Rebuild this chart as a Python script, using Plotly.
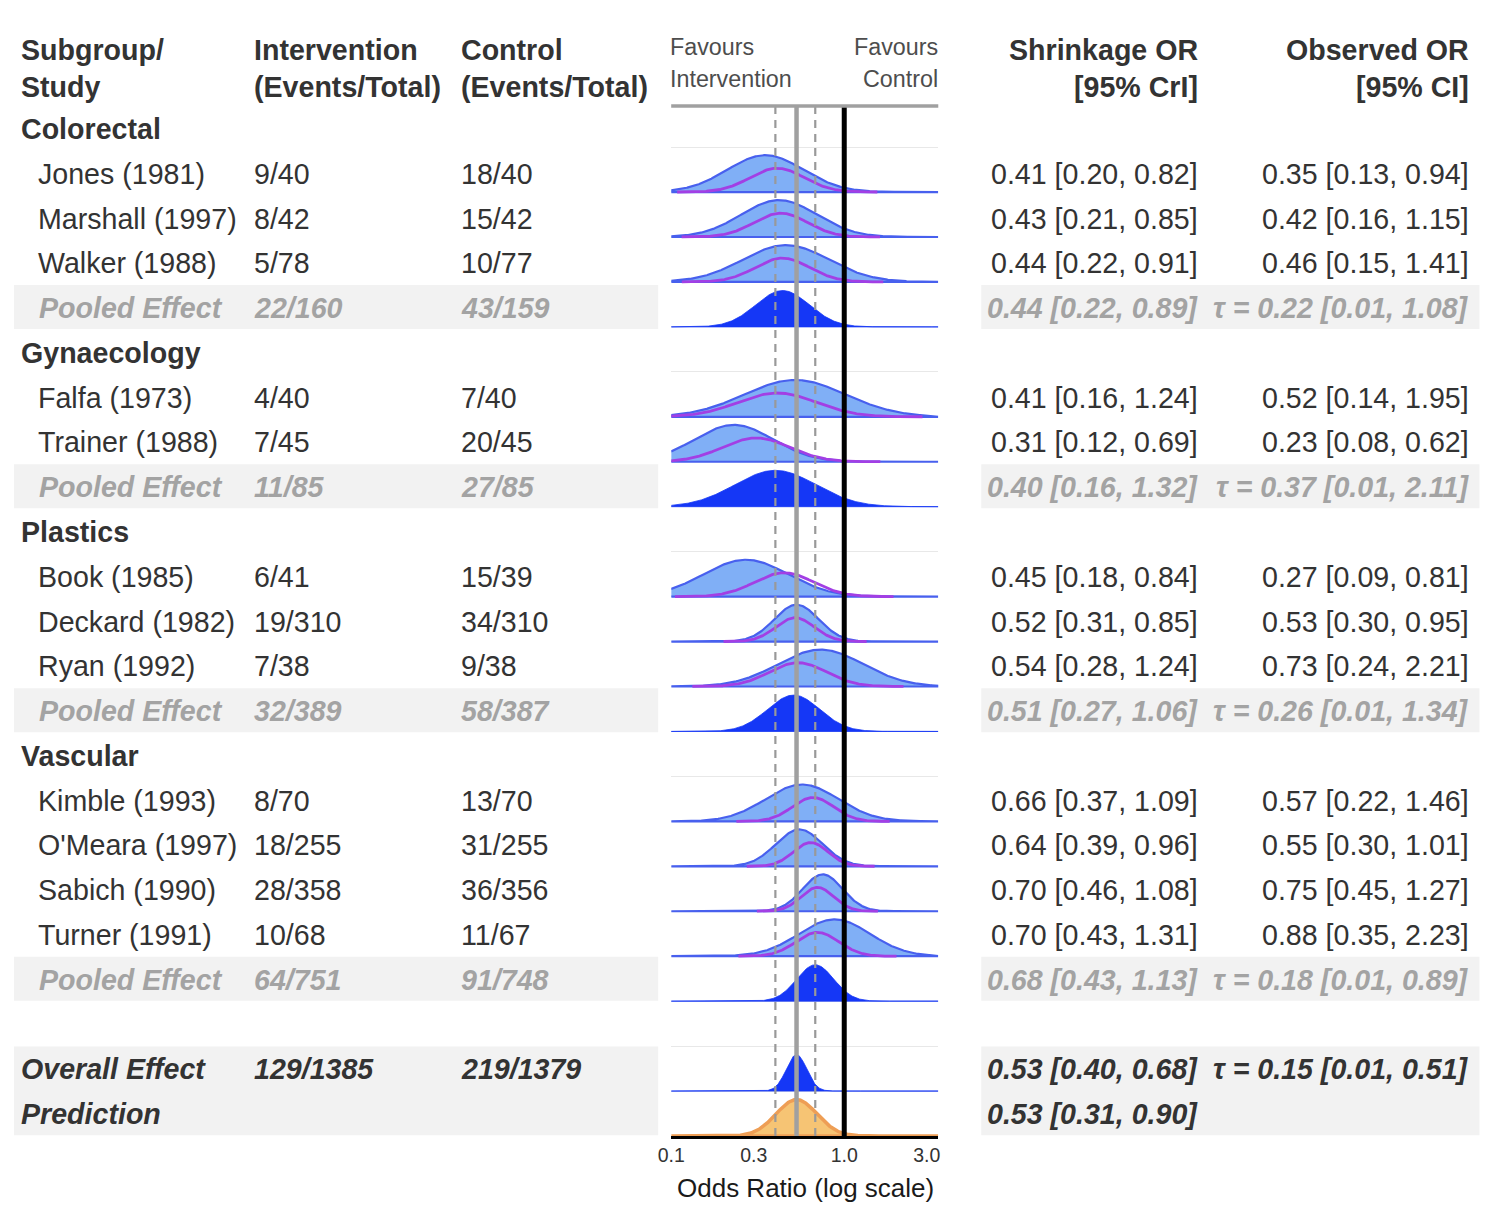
import numpy as np
import plotly.graph_objects as go

# ---------------- data ----------------
row_labels = ["Colorectal", "Jones (1981)", "Marshall (1997)", "Walker (1988)", "Pooled Effect",
              "Gynaecology", "Falfa (1973)", "Trainer (1988)", "Pooled Effect",
              "Plastics", "Book (1985)", "Deckard (1982)", "Ryan (1992)", "Pooled Effect",
              "Vascular", "Kimble (1993)", "O'Meara (1997)", "Sabich (1990)", "Turner (1991)", "Pooled Effect",
              "", "Overall Effect", "Prediction"]
row_kind = ["group", "study", "study", "study", "pooled",
            "group", "study", "study", "pooled",
            "group", "study", "study", "study", "pooled",
            "group", "study", "study", "study", "study", "pooled",
            "blank", "overall", "prediction"]
int_events = ["", "9/40", "8/42", "5/78", "22/160",
              "", "4/40", "7/45", "11/85",
              "", "6/41", "19/310", "7/38", "32/389",
              "", "8/70", "18/255", "28/358", "10/68", "64/751",
              "", "129/1385", ""]
ctl_events = ["", "18/40", "15/42", "10/77", "43/159",
              "", "7/40", "20/45", "27/85",
              "", "15/39", "34/310", "9/38", "58/387",
              "", "13/70", "31/255", "36/356", "11/67", "91/748",
              "", "219/1379", ""]
shr_est = [None, 0.41, 0.43, 0.44, 0.44, None, 0.41, 0.31, 0.40, None, 0.45, 0.52, 0.54, 0.51,
           None, 0.66, 0.64, 0.70, 0.70, 0.68, None, 0.53, 0.53]
shr_lo = [None, 0.20, 0.21, 0.22, 0.22, None, 0.16, 0.12, 0.16, None, 0.18, 0.31, 0.28, 0.27,
          None, 0.37, 0.39, 0.46, 0.43, 0.43, None, 0.40, 0.31]
shr_hi = [None, 0.82, 0.85, 0.91, 0.89, None, 1.24, 0.69, 1.32, None, 0.84, 0.85, 1.24, 1.06,
          None, 1.09, 0.96, 1.08, 1.31, 1.13, None, 0.68, 0.90]
obs_est = [None, 0.35, 0.42, 0.46, None, None, 0.52, 0.23, None, None, 0.27, 0.53, 0.73, None,
           None, 0.57, 0.55, 0.75, 0.88, None, None, None, None]
obs_lo = [None, 0.13, 0.16, 0.15, None, None, 0.14, 0.08, None, None, 0.09, 0.30, 0.24, None,
          None, 0.22, 0.30, 0.45, 0.35, None, None, None, None]
obs_hi = [None, 0.94, 1.15, 1.41, None, None, 1.95, 0.62, None, None, 0.81, 0.95, 2.21, None,
          None, 1.46, 1.01, 1.27, 2.23, None, None, None, None]
tau_est = [None] * 4 + [0.22] + [None] * 3 + [0.37] + [None] * 4 + [0.26] + [None] * 5 + [0.18] + [None, 0.15, None]
tau_lo = [None] * 4 + [0.01] + [None] * 3 + [0.01] + [None] * 4 + [0.01] + [None] * 5 + [0.01] + [None, 0.01, None]
tau_hi = [None] * 4 + [1.08] + [None] * 3 + [2.11] + [None] * 4 + [1.34] + [None] * 5 + [0.89] + [None, 0.51, None]
null_value = 1.0
tick_vals = [0.1, 0.3, 1.0, 3.0]
tick_text = ["0.1", "0.3", "1.0", "3.0"]

# ---------------- geometry ----------------
W, H = 1494, 1226
FONT = "Liberation Sans, Arial, Helvetica, sans-serif"
TXT = "#333333"
GREY_TXT = "#A3A3A3"
BAND = "#F2F2F2"
FS = 28.6


def X(t):
    # horizontal pixel position in paper fraction
    return max(0.0, (t - 13) / 0.989) / W


def XL(t):
    return X(t - 2)


def XR(t):
    return X(t + 2)


def py(y):
    return 1 - y / H


PANEL_L, PANEL_R = 670, 937
PANEL_T, PANEL_B = 106, 1136
ROW_H = 44.95
Y_BOTTOM = len(row_labels) - 0.5
Y_TOP = Y_BOTTOM - (PANEL_B - PANEL_T) / ROW_H
LOGX_MAX = -1 + (PANEL_R - PANEL_L) / 173.0
TEXT_Y0, TEXT_DY = 129.0, 44.78


def row_text_y(r):
    return TEXT_Y0 + TEXT_DY * r


def density(est, lo, hi, xs):
    mu = np.log(est)
    sd = (np.log(hi) - np.log(lo)) / (2 * 1.959964)
    return np.exp(-0.5 * ((np.log(xs) - mu) / sd) ** 2), mu, sd


fig = go.Figure()
xs_full = np.logspace(-1, LOGX_MAX, 400)

OBS_FILL = "#80AFF6"
OBS_LINE = "#4860EE"
SHR_LINE = "#A23FE4"
POOL_FILL = "#1537F6"
PRED_FILL = "#F6C474"
PRED_LINE = "#EE9E55"

for r, kind in enumerate(row_kind):
    base = r + 0.5
    if kind == "study":
        d, _, _ = density(obs_est[r], obs_lo[r], obs_hi[r], xs_full)
        fig.add_trace(go.Scatter(x=np.concatenate([xs_full, xs_full[::-1]]),
                                 y=np.concatenate([base - 0.82 * d, np.full(len(xs_full), base)]),
                                 mode="lines", fill="toself", fillcolor=OBS_FILL,
                                 line=dict(color=OBS_LINE, width=2.2), hoverinfo="skip", showlegend=False))
        _, mu, sd = density(shr_est[r], shr_lo[r], shr_hi[r], xs_full)
        lo_x = max(0.1, np.exp(mu - 3.7 * sd))
        hi_x = min(10 ** LOGX_MAX, np.exp(mu + 3.7 * sd))
        xs_s = np.logspace(np.log10(lo_x), np.log10(hi_x), 300)
        ds, _, _ = density(shr_est[r], shr_lo[r], shr_hi[r], xs_s)
        fig.add_trace(go.Scatter(x=xs_s, y=base - 0.53 * ds, mode="lines",
                                 line=dict(color=SHR_LINE, width=2.8), hoverinfo="skip", showlegend=False))
    elif kind in ("pooled", "overall", "prediction"):
        d, _, _ = density(shr_est[r], shr_lo[r], shr_hi[r], xs_full)
        if kind == "prediction":
            fc, lc, lw = PRED_FILL, PRED_LINE, 3.5
        else:
            fc, lc, lw = POOL_FILL, POOL_FILL, 0.8
        fig.add_trace(go.Scatter(x=np.concatenate([xs_full, xs_full[::-1]]),
                                 y=np.concatenate([base - 0.81 * d, np.full(len(xs_full), base)]),
                                 mode="lines", fill="toself", fillcolor=fc,
                                 line=dict(color=lc, width=lw), hoverinfo="skip", showlegend=False))

# reference lines (overall estimate, its interval, null)
ov = row_kind.index("overall")
for v, col, wd, dash in [(shr_lo[ov], "#999999", 2.2, "8px,6px"), (shr_hi[ov], "#999999", 2.2, "8px,6px"),
                         (shr_est[ov], "#A0A0A0", 4.5, "solid"), (null_value, "#000000", 5, "solid")]:
    fig.add_trace(go.Scatter(x=[v, v], y=[Y_TOP, Y_BOTTOM], mode="lines",
                             line=dict(color=col, width=wd, dash=dash), hoverinfo="skip", showlegend=False))

shapes = []
# grey bands behind pooled / overall rows
for r, kind in enumerate(row_kind):
    if kind == "pooled":
        t0, t1 = row_text_y(r) - 23, row_text_y(r) + 21
    elif kind == "overall":
        t0, t1 = row_text_y(r) - 23, row_text_y(r + 1) + 21
    else:
        continue
    for x0, x1 in [(10, 657), (980, 1478)]:
        shapes.append(dict(type="rect", xref="paper", yref="paper", x0=X(x0), x1=X(x1),
                           y0=py(t1), y1=py(t0), fillcolor=BAND, line=dict(width=0), layer="below"))
# top border of panel
shapes.append(dict(type="line", xref="paper", yref="paper", x0=X(PANEL_L), x1=X(PANEL_R),
                   y0=py(PANEL_T), y1=py(PANEL_T), line=dict(color="#A0A0A0", width=3.5)))

ann = []


def add_text(text, x, y, anchor="left", size=FS, color=TXT, bold=False, italic=False):
    t = text
    if bold:
        t = "<b>" + t + "</b>"
    if italic:
        t = "<i>" + t + "</i>"
    xx = XL(x) if anchor == "left" else (XR(x) if anchor == "right" else X(x))
    ann.append(dict(text=t, x=xx, xref="paper", y=py(y), yref="paper", xanchor=anchor, yanchor="middle",
                    showarrow=False, font=dict(family=FONT, size=size, color=color)))


# headers
add_text("Subgroup/", 20, 50, bold=True)
add_text("Study", 20, 87, bold=True)
add_text("Intervention", 253, 50, bold=True)
add_text("(Events/Total)", 253, 87, bold=True)
add_text("Control", 460, 50, bold=True)
add_text("(Events/Total)", 460, 87, bold=True)
add_text("Shrinkage OR", 1197, 50, anchor="right", bold=True)
add_text("[95% CrI]", 1197, 87, anchor="right", bold=True)
add_text("Observed OR", 1468, 50, anchor="right", bold=True)
add_text("[95% CI]", 1468, 87, anchor="right", bold=True)
add_text("Favours", 669, 47, size=23.3, color="#4D4D4D")
add_text("Intervention", 669, 79, size=23.3, color="#4D4D4D")
add_text("Favours", 937, 47, anchor="right", size=23.3, color="#4D4D4D")
add_text("Control", 937, 79, anchor="right", size=23.3, color="#4D4D4D")
add_text("Odds Ratio (log scale)", 804, 1188, anchor="center", size=26, color="#1A1A1A")


def fmt(e, lo, hi):
    return f"{e:.2f} [{lo:.2f}, {hi:.2f}]"


for r, kind in enumerate(row_kind):
    yc = row_text_y(r)
    if kind == "group":
        add_text(row_labels[r], 20, yc, bold=True)
    elif kind == "study":
        add_text(row_labels[r], 37, yc)
        add_text(int_events[r], 253, yc)
        add_text(ctl_events[r], 460, yc)
        add_text(fmt(shr_est[r], shr_lo[r], shr_hi[r]), 1197, yc, anchor="right")
        add_text(fmt(obs_est[r], obs_lo[r], obs_hi[r]), 1468, yc, anchor="right")
    elif kind == "pooled":
        add_text(row_labels[r], 38, yc, bold=True, italic=True, color=GREY_TXT)
        add_text(int_events[r], 253, yc, bold=True, italic=True, color=GREY_TXT)
        add_text(ctl_events[r], 460, yc, bold=True, italic=True, color=GREY_TXT)
        add_text(fmt(shr_est[r], shr_lo[r], shr_hi[r]), 1197, yc, anchor="right", bold=True, italic=True, color=GREY_TXT)
        add_text("τ = " + fmt(tau_est[r], tau_lo[r], tau_hi[r]), 1468, yc, anchor="right", bold=True, italic=True, color=GREY_TXT)
    elif kind == "overall":
        add_text(row_labels[r], 20, yc, bold=True, italic=True)
        add_text(int_events[r], 253, yc, bold=True, italic=True)
        add_text(ctl_events[r], 460, yc, bold=True, italic=True)
        add_text(fmt(shr_est[r], shr_lo[r], shr_hi[r]), 1197, yc, anchor="right", bold=True, italic=True)
        add_text("τ = " + fmt(tau_est[r], tau_lo[r], tau_hi[r]), 1468, yc, anchor="right", bold=True, italic=True)
    elif kind == "prediction":
        add_text(row_labels[r], 20, yc, bold=True, italic=True)
        add_text(fmt(shr_est[r], shr_lo[r], shr_hi[r]), 1197, yc, anchor="right", bold=True, italic=True)

fig.update_layout(
    width=W, height=H, margin=dict(l=0, r=0, t=0, b=0),
    paper_bgcolor="white", plot_bgcolor="white", showlegend=False,
    shapes=shapes, annotations=ann,
    xaxis=dict(type="log", domain=[X(PANEL_L), X(PANEL_R)], range=[-1, LOGX_MAX],
               tickvals=tick_vals, ticktext=tick_text, showgrid=False, zeroline=False,
               showline=True, linecolor="black", linewidth=3, ticks="",
               tickfont=dict(family=FONT, size=19.5, color="#333333")),
    yaxis=dict(domain=[py(PANEL_B), py(PANEL_T)], range=[Y_BOTTOM, Y_TOP],
               tickvals=[r + 0.5 for r in range(len(row_labels))], showticklabels=False,
               showgrid=True, gridcolor="#E8E8E8", gridwidth=1, zeroline=False, showline=False, ticks=""),
)

fig.write_html("out.html", config={"displayModeBar": False},
               post_script="document.body.style.margin='0';")
